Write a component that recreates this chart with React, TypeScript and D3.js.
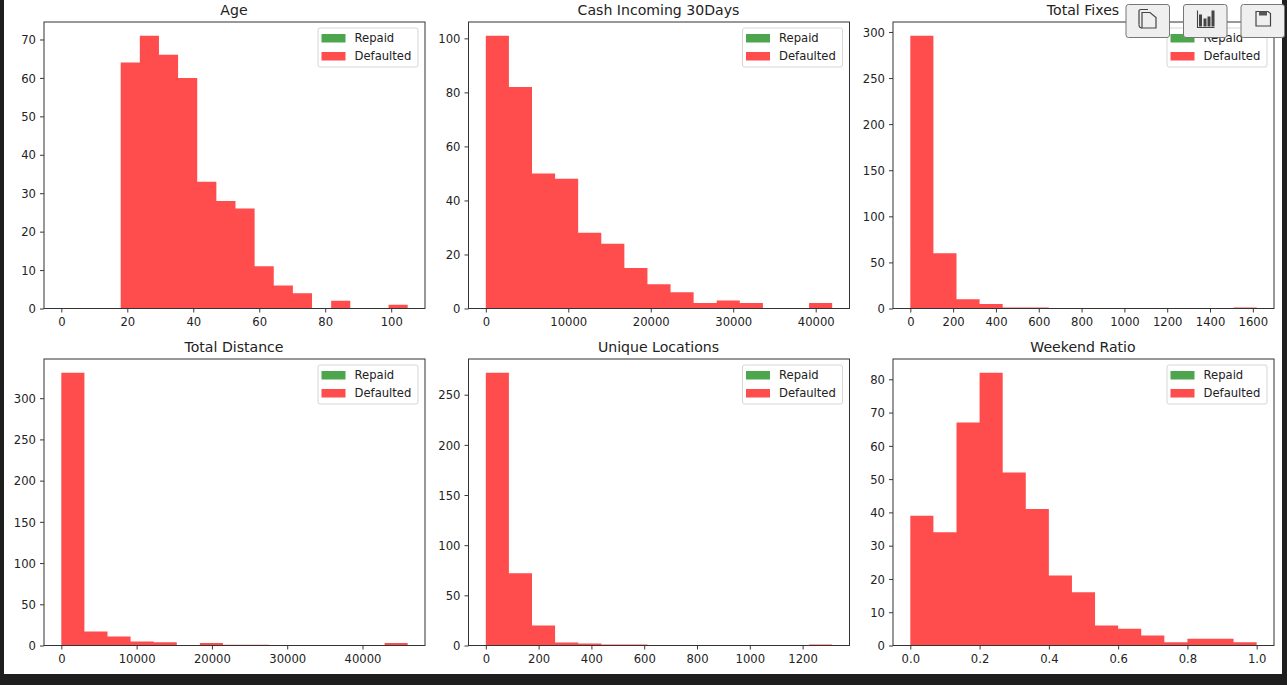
import * as React from 'react';
import * as d3 from 'd3';

const titles = ['Age', 'Cash Incoming 30Days', 'Total Fixes', 'Total Distance', 'Unique Locations', 'Weekend Ratio'];

// defaulted counts per bin (15 bins each), nothing visible for repaid
const ageCounts = [64, 71, 66, 60, 33, 28, 26, 11, 6, 4, 0, 2, 0, 0, 1];
const cashCounts = [101, 82, 50, 48, 28, 24, 15, 9, 6, 2, 3, 2, 0, 0, 2];
const fixesCounts = [296, 60, 10, 5, 1, 1, 0, 0, 0, 0, 0, 0, 0, 0, 1];
const distanceCounts = [331, 17, 11, 5, 4, 0, 3, 1, 1, 0, 0, 0, 0, 0, 3];
const locationCounts = [272, 72, 20, 3, 2, 1, 1, 0, 0, 0, 0, 0, 0, 0, 1];
const weekendCounts = [39, 34, 67, 82, 52, 41, 21, 16, 6, 5, 3, 1, 2, 2, 1];
const allCounts = [ageCounts, cashCounts, fixesCounts, distanceCounts, locationCounts, weekendCounts];

const binStarts = [18, 0, 0, 0, 0, 0];
const binEnds = [105, 42000, 1618, 46000, 1312, 1];

const xTicks = [
    [0, 20, 40, 60, 80, 100],
    [0, 10000, 20000, 30000, 40000],
    [0, 200, 400, 600, 800, 1000, 1200, 1400, 1600],
    [0, 10000, 20000, 30000, 40000],
    [0, 200, 400, 600, 800, 1000, 1200],
    [0, 0.2, 0.4, 0.6, 0.8, 1],
];
const yTicks = [
    [0, 10, 20, 30, 40, 50, 60, 70],
    [0, 20, 40, 60, 80, 100],
    [0, 50, 100, 150, 200, 250, 300],
    [0, 50, 100, 150, 200, 250, 300],
    [0, 50, 100, 150, 200, 250],
    [0, 10, 20, 30, 40, 50, 60, 70, 80],
];
const legendLabels = ['Repaid', 'Defaulted'];
const legendColors = ['rgb(77,166,77)', 'rgb(255,77,77)'];

const font = '"DejaVu Sans"';
const panelLeft = [44, 468.5, 893];
const panelTop = [22, 359];
const panelW = 381;
const panelH = 286.5;

function drawPanel(svg: any, i: number) {
    const left = panelLeft[i % 3];
    const top = panelTop[Math.floor(i / 3)];
    const counts = allCounts[i];
    const g = svg.append('g').attr('transform', 'translate(' + left + ',' + top + ')');

    const pad = binEnds[i] * 0.05;
    const x = d3.scaleLinear().domain([-pad, binEnds[i] + pad]).range([0, panelW]);
    const yMax = d3.max(counts) * 1.05;
    const y = d3.scaleLinear().domain([0, yMax]).range([panelH, 0]);
    const edge = d3.scaleLinear().domain([0, counts.length]).range([binStarts[i], binEnds[i]]);

    // one stepped shape, so neighbouring bins have no seam between them
    const steps = d3.area<number>()
        .x((d, k) => x(edge(k)))
        .y0(panelH)
        .y1(d => y(d))
        .curve(d3.curveStepAfter);
    g.append('path')
        .attr('d', steps([...counts, counts[counts.length - 1]]))
        .attr('fill', 'red')
        .attr('fill-opacity', 0.7);

    const fmt = i === 5 ? d3.format('.1f') : d3.format('d');
    const xAxis = g.append('g')
        .attr('transform', 'translate(0,' + panelH + ')')
        .call(d3.axisBottom(x).tickValues(xTicks[i]).tickFormat(fmt).tickSize(4).tickPadding(5).tickSizeOuter(0));
    const yAxis = g.append('g')
        .call(d3.axisLeft(y).tickValues(yTicks[i]).tickFormat(d3.format('d')).tickSize(4).tickPadding(4).tickSizeOuter(0));
    [xAxis, yAxis].forEach(a => {
        a.select('.domain').remove();
        a.selectAll('text').style('font-family', font).style('font-size', '11.6px').attr('fill', '#222');
        a.selectAll('line').attr('stroke', '#222').attr('stroke-width', 0.9);
    });
    yAxis.selectAll('text').attr('dy', '0.36em');

    g.append('rect')
        .attr('width', panelW)
        .attr('height', panelH)
        .attr('fill', 'none')
        .attr('stroke', '#333')
        .attr('stroke-width', 1);

    g.append('text')
        .attr('x', panelW / 2 - 0.5)
        .attr('y', -7)
        .attr('text-anchor', 'middle')
        .style('font-family', font)
        .style('font-size', '14.1px')
        .attr('fill', '#222')
        .text(titles[i]);

    // legend
    const lg = g.append('g').attr('transform', 'translate(' + (panelW - 107) + ',6)');
    lg.append('rect')
        .attr('width', 100)
        .attr('height', 39)
        .attr('rx', 2)
        .attr('fill', '#fff')
        .attr('fill-opacity', 0.8)
        .attr('stroke', '#d6d6d6');
    legendLabels.forEach((label, k) => {
        lg.append('rect')
            .attr('x', 3.5)
            .attr('y', 6 + k * 18)
            .attr('width', 24)
            .attr('height', 8.5)
            .attr('fill', legendColors[k]);
        lg.append('text')
            .attr('x', 36.5)
            .attr('y', 14.3 + k * 18)
            .style('font-family', font)
            .style('font-size', '11.6px')
            .attr('fill', '#222')
            .text(label);
    });
}

function drawToolbar(svg: any) {
    const lefts = [1126, 1183.5, 1241];
    lefts.forEach((bx, k) => {
        const b = svg.append('g').attr('transform', 'translate(' + bx + ',4.5)');
        b.append('rect')
            .attr('width', 43.5)
            .attr('height', 33)
            .attr('rx', 2.5)
            .attr('fill', '#efefef')
            .attr('stroke', '#777');
        const icon = b.append('g').attr('fill', 'none').attr('stroke', '#444').attr('stroke-width', 1.2);
        if (k === 0) {
            icon.append('path').attr('d', 'M13 20 V7 Q13 5 15 5 H22');
            icon.append('path').attr('d', 'M16 8 H24 L30 13 V23.5 H16 Z');
            icon.append('path').attr('d', 'M13 20 Q13 23.5 16 23.5');
        } else if (k === 1) {
            icon.append('path').attr('d', 'M14 6 V23 H31').attr('stroke-width', 1.1);
            [[15.5, 10], [20, 14], [24, 12], [28, 6]].forEach(([bxx, by]) => {
                b.append('rect').attr('x', bxx).attr('y', by).attr('width', 3).attr('height', 22 - by).attr('fill', '#444');
            });
        } else {
            icon.append('path').attr('d', 'M15 7 H27 L29.5 9 V21.5 H15 Z');
            b.append('rect').attr('x', 18).attr('y', 7).attr('width', 8).attr('height', 4).attr('fill', '#555');
        }
    });
}

export default function App() {
    const ref = React.useRef<SVGSVGElement>(null);

    React.useEffect(() => {
        const svg = d3.select(ref.current);
        svg.selectAll('*').remove();
        svg.append('rect').attr('width', 1287).attr('height', 685).attr('fill', '#1e1e1e');
        svg.append('rect').attr('x', 4).attr('width', 1278).attr('height', 674).attr('fill', '#fff');
        titles.forEach((t, i) => drawPanel(svg, i));
        drawToolbar(svg);
    }, []);

    return <svg ref={ref} width={1287} height={685} style={{position: 'absolute', left: 0, top: 0}} />;
}
